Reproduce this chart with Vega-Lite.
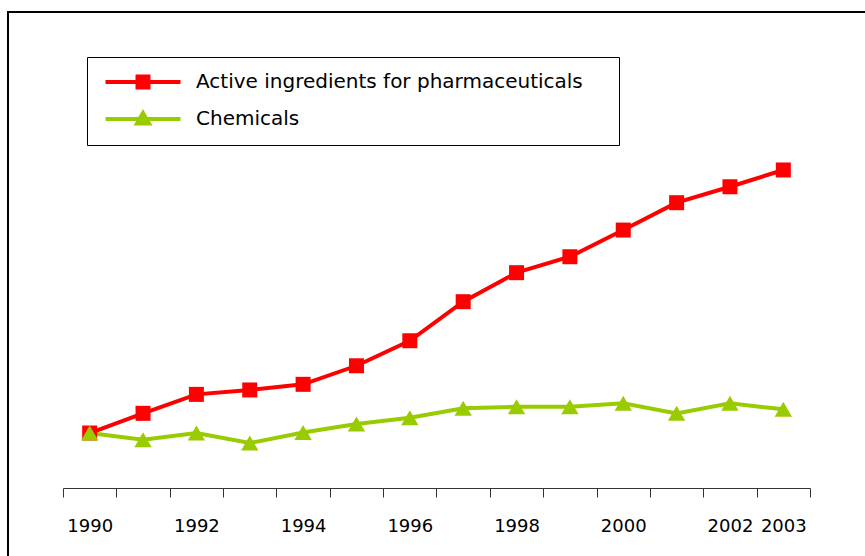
{
  "$schema": "https://vega.github.io/schema/vega-lite/v6.json",
  "width": 858,
  "height": 545,
  "autosize": "none",
  "padding": {"left": 8, "top": 12, "right": 0, "bottom": 0},
  "background": "white",
  "config": {"view": {"stroke": "black", "strokeWidth": 2}},
  "data": {
    "values": [
      {"year": 1990, "series": "Active ingredients for pharmaceuticals", "value": 100},
      {"year": 1991, "series": "Active ingredients for pharmaceuticals", "value": 114.3},
      {"year": 1992, "series": "Active ingredients for pharmaceuticals", "value": 128.1},
      {"year": 1993, "series": "Active ingredients for pharmaceuticals", "value": 131.3},
      {"year": 1994, "series": "Active ingredients for pharmaceuticals", "value": 135.4},
      {"year": 1995, "series": "Active ingredients for pharmaceuticals", "value": 148.9},
      {"year": 1996, "series": "Active ingredients for pharmaceuticals", "value": 167.1},
      {"year": 1997, "series": "Active ingredients for pharmaceuticals", "value": 195.5},
      {"year": 1998, "series": "Active ingredients for pharmaceuticals", "value": 216.6},
      {"year": 1999, "series": "Active ingredients for pharmaceuticals", "value": 228.2},
      {"year": 2000, "series": "Active ingredients for pharmaceuticals", "value": 247.6},
      {"year": 2001, "series": "Active ingredients for pharmaceuticals", "value": 267.5},
      {"year": 2002, "series": "Active ingredients for pharmaceuticals", "value": 279.1},
      {"year": 2003, "series": "Active ingredients for pharmaceuticals", "value": 291.3},
      {"year": 1990, "series": "Chemicals", "value": 100},
      {"year": 1991, "series": "Chemicals", "value": 95.1},
      {"year": 1992, "series": "Chemicals", "value": 100},
      {"year": 1993, "series": "Chemicals", "value": 92.7},
      {"year": 1994, "series": "Chemicals", "value": 100.3},
      {"year": 1995, "series": "Chemicals", "value": 106.5},
      {"year": 1996, "series": "Chemicals", "value": 111.1},
      {"year": 1997, "series": "Chemicals", "value": 118},
      {"year": 1998, "series": "Chemicals", "value": 119.1},
      {"year": 1999, "series": "Chemicals", "value": 119.1},
      {"year": 2000, "series": "Chemicals", "value": 121.6},
      {"year": 2001, "series": "Chemicals", "value": 114.3},
      {"year": 2002, "series": "Chemicals", "value": 121.6},
      {"year": 2003, "series": "Chemicals", "value": 117.2}
    ]
  },
  "encoding": {
    "x": {
      "field": "year",
      "type": "ordinal",
      "scale": {"type": "band", "range": [55, 802], "paddingInner": 0, "paddingOuter": 0},
      "axis": {
        "title": null,
        "orient": "bottom",
        "offset": -69,
        "domainColor": "#333333",
        "domainWidth": 1,
        "tickColor": "#333333",
        "tickWidth": 1,
        "tickSize": 9,
        "tickBand": "extent",
        "labelAngle": 0,
        "labelFont": "DejaVu Sans",
        "labelFontSize": 18,
        "labelColor": "black",
        "labelPadding": 20,
        "labelOverlap": false,
        "labelExpr": "(+datum.value) % 2 == 0 || (+datum.value) == 2003 ? datum.label : ''",
        "grid": false
      }
    },
    "y": {
      "field": "value",
      "type": "quantitative",
      "scale": {"domain": [60, 406.2], "range": [476, 0], "nice": false, "zero": false},
      "axis": null
    },
    "color": {
      "field": "series",
      "type": "nominal",
      "scale": {"domain": ["Active ingredients for pharmaceuticals", "Chemicals"], "range": ["#FF0000", "#99CC00"]},
      "legend": {
        "title": null,
        "orient": "none",
        "legendX": 79,
        "legendY": 45,
        "strokeColor": "black",
        "fillColor": "white",
        "padding": 13,
        "rowPadding": 9,
        "labelFont": "DejaVu Sans",
        "labelFontSize": 20,
        "labelColor": "black",
        "labelLimit": 0,
        "symbolSize": 400,
        "symbolStrokeWidth": 4,
        "symbolOffset": 31,
        "labelOffset": 41
      }
    }
  },
  "layer": [
    {"mark": {"type": "line", "strokeWidth": 4}},
    {
      "transform": [{"filter": "false"}],
      "mark": {"type": "point", "filled": true, "opacity": 1},
      "encoding": {
        "shape": {
          "field": "series",
          "type": "nominal",
          "scale": {
            "domain": ["Active ingredients for pharmaceuticals", "Chemicals"],
            "range": [
              "M-3.75,0H3.75M-0.55,-0.55H0.55V0.55H-0.55ZM45.5,0h0",
              "M-3.75,0H3.75M-0.6,0.45L0,-0.6L0.6,0.45ZM45.5,0h0"
            ]
          },
          "legend": {"title": null}
        }
      }
    },
    {
      "transform": [{"filter": "datum.series === 'Active ingredients for pharmaceuticals'"}],
      "mark": {"type": "point", "shape": "square", "filled": true, "opacity": 1, "size": 225}
    },
    {
      "transform": [{"filter": "datum.series === 'Chemicals'"}],
      "mark": {"type": "point", "shape": "triangle-up", "filled": true, "opacity": 1, "size": 300}
    }
  ]
}
